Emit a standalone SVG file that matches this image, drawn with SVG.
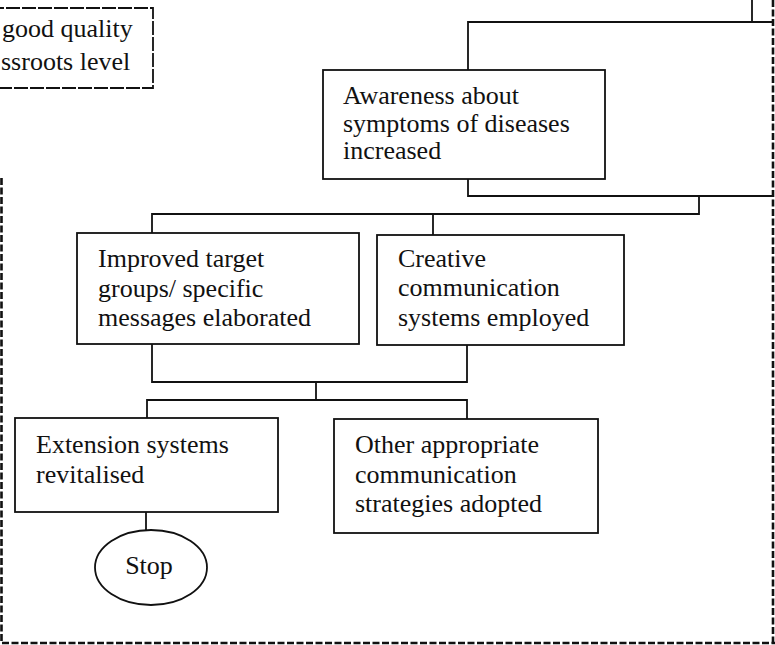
<svg xmlns="http://www.w3.org/2000/svg" width="775" height="645" viewBox="0 0 775 645">
<style>
.box{fill:#fff;stroke:#111;stroke-width:1.8}
.line{fill:none;stroke:#111;stroke-width:1.8}
.dash{fill:none;stroke:#111;stroke-width:2.6;stroke-dasharray:7 2.5}
.dbox{fill:#fff;stroke:#111;stroke-width:1.8;stroke-dasharray:14 2}
text{font-family:"Liberation Serif","Times New Roman",serif;font-size:26px;fill:#111}
</style>
<rect width="775" height="645" fill="#fff"/>
<g id="outer-boundary">
<path class="dash" d="M1.5,178 V643 H775"/>
<path class="dash" d="M773,0 V645"/>
</g>
<g id="connectors">
<path class="line" d="M752,0 V22"/>
<path class="line" d="M699,196 V214 H152 V233"/>
<path class="line" d="M433,214 V235"/>
<path class="line" d="M152,344 V382 H467 V345"/>
<path class="line" d="M316,382 V400"/>
<path class="line" d="M147,418 V400 H467 V419"/>
<path class="line" d="M146,512 V530"/>
</g>
<g id="node-top-left">
<rect class="dbox" x="-10" y="8" width="163" height="80"/>
<text x="2" y="37" font-size="25">good quality</text>
<text x="1" y="70">ssroots level</text>
</g>
<g id="node-background">
<path class="line" d="M773,22 H468 V196 H773"/>
</g>
<g id="node-awareness">
<rect class="box" x="323" y="70" width="282" height="109"/>
<text x="343" y="104">Awareness about</text>
<text x="343" y="132">symptoms of diseases</text>
<text x="343" y="159">increased</text>
</g>
<g id="node-improved">
<rect class="box" x="77" y="233" width="282" height="111"/>
<text x="98" y="267">Improved target</text>
<text x="98" y="297">groups/ specific</text>
<text x="98" y="326">messages elaborated</text>
</g>
<g id="node-creative">
<rect class="box" x="377" y="235" width="247" height="110"/>
<text x="398" y="267">Creative</text>
<text x="398" y="296">communication</text>
<text x="398" y="326">systems employed</text>
</g>
<g id="node-extension">
<rect class="box" x="15" y="418" width="263" height="94"/>
<text x="36" y="453">Extension systems</text>
<text x="36" y="483">revitalised</text>
</g>
<g id="node-other">
<rect class="box" x="334" y="419" width="264" height="114"/>
<text x="355" y="453">Other appropriate</text>
<text x="355" y="483">communication</text>
<text x="355" y="512">strategies adopted</text>
</g>
<g id="node-stop">
<ellipse class="box" cx="151" cy="567.5" rx="56" ry="37.5"/>
<text x="149" y="574" text-anchor="middle">Stop</text>
</g>
</svg>
